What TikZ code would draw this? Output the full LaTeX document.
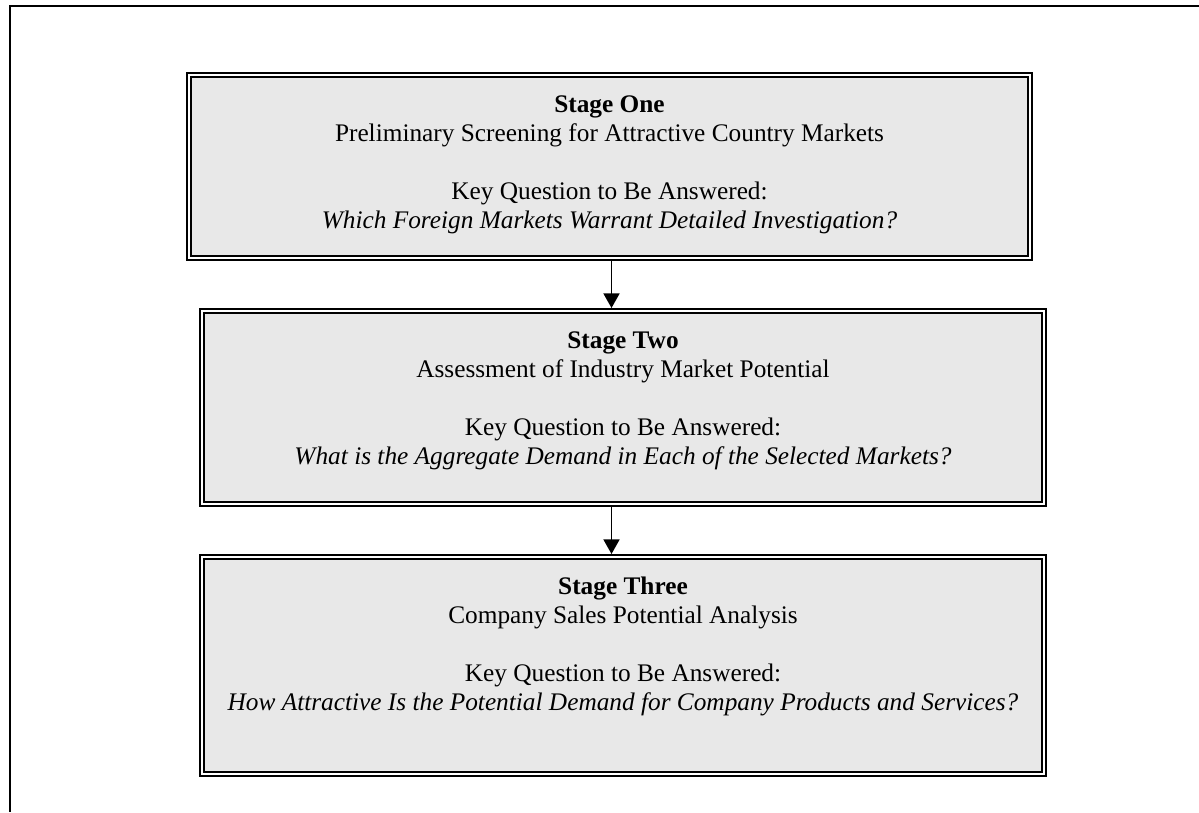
\documentclass[tikz,border=0pt]{standalone}
\usepackage{fontspec}
\setmainfont{Liberation Serif}
\usetikzlibrary{arrows.meta,positioning}

\definecolor{stagefill}{HTML}{E8E8E8}
\newlength\px
\setlength\px{0.48pt}

% text of one stage box: fixed height, text from the top
\newcommand{\stagetext}[6]{%
  \parbox[t][#2\px][t]{#1\px}{\centering
    \rule{0pt}{37\px}\textbf{#3}\\
    #4\\[\baselineskip]
    #5\\
    \textit{#6}}}

\begin{document}
\begin{tikzpicture}[x=1\px,y=-1\px,
    stagebox/.style={draw=black,double=white,double distance=2\px,line width=2.4\px,
      fill=stagefill,inner sep=0pt,outer sep=0pt,anchor=north west,
      font=\fontsize{12.15}{14}\selectfont},
    flow/.style={line width=1.5\px,shorten <=3\px,shorten >=3\px,
      -{Triangle[width=7.7pt,length=7pt]}}]
        \useasboundingbox (0,0) rectangle (1199,812);

        % Frame
        \draw[line width=2.5\px] (1199,6) -- (10,6) -- (10,812);

        % Stages
        \node[stagebox] (stage1) at (189,75) {\stagetext{841}{183}{Stage One}
          {Preliminary Screening for Attractive Country Markets}
          {Key Question to Be Answered:}
          {Which Foreign Markets Warrant Detailed Investigation?}};
        \node[stagebox] (stage2) at (202,311) {\stagetext{842}{193}{Stage Two}
          {Assessment of Industry Market Potential}
          {Key Question to Be Answered:}
          {What is the Aggregate Demand in Each of the Selected Markets?}};
        \node[stagebox] (stage3) at (202,557) {\stagetext{842}{217}{Stage Three}
          {Company Sales Potential Analysis}
          {Key Question to Be Answered:}
          {How Attractive Is the Potential Demand for Company Products and Services?}};

        % Arrows
        \draw[flow] ([xshift=2\px]stage1.south) -- ([xshift=2\px]stage1.south |- stage2.north);
        \draw[flow] ([xshift=2\px]stage1.south |- stage2.south) -- ([xshift=2\px]stage1.south |- stage3.north);
\end{tikzpicture}
\end{document}
